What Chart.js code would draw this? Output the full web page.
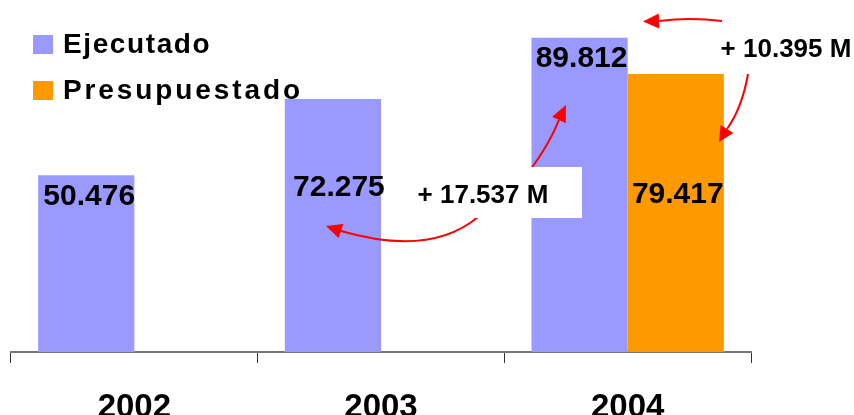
<!DOCTYPE html>
<html>
<head>
<meta charset="utf-8">
<script src="https://cdn.jsdelivr.net/npm/chart.js@4.4.1/dist/chart.umd.min.js"></script>
<style>
  html, body { margin: 0; padding: 0; background: #fff; }
  #wrap { width: 854px; height: 415px; position: relative; }
</style>
</head>
<body>
<div id="wrap"><canvas id="c" width="854" height="415"></canvas></div>
<script>
// Budget execution by year (values in thousands, shown as "50.476" etc.)
const years = ['2002', '2003', '2004'];
const ejecutado = [50476, 72275, 89812];
const presupuestado = [null, null, 79417];
const seriesNames = ['Ejecutado', 'Presupuestado'];
const seriesColors = ['#9999FF', '#FF9900'];

const FONT = "'Liberation Sans', Arial, Helvetica, sans-serif";

// 50476 -> "50.476"
function fmt(v) {
  return Math.floor(v / 1000) + '.' + String(v % 1000).padStart(3, '0');
}

const growth = ejecutado[2] - ejecutado[1];          // vs previous year
const overBudget = ejecutado[2] - presupuestado[2];  // vs budget

function arrow(ctx, s, c, e, tip) {
  ctx.beginPath();
  ctx.moveTo(s[0], s[1]);
  ctx.quadraticCurveTo(c[0], c[1], e[0], e[1]);
  ctx.stroke();
  const dx = tip[0] - e[0], dy = tip[1] - e[1];
  const L = Math.hypot(dx, dy) || 1;
  const nx = -dy / L * 7.5, ny = dx / L * 7.5;
  ctx.beginPath();
  ctx.moveTo(tip[0], tip[1]);
  ctx.lineTo(e[0] + nx, e[1] + ny);
  ctx.lineTo(e[0] - nx, e[1] - ny);
  ctx.closePath();
  ctx.fill();
}

// Value labels, comparison arrows and callouts
const overlay = {
  id: 'overlay',
  afterDatasetsDraw(chart, args, opts) {
    const ctx = chart.ctx, xs = chart.scales.x, ys = chart.scales.y;
    const cw = xs.width / chart.data.labels.length;
    const x0 = xs.getPixelForValue(0);
    // c: position in category units, k: value in thousands
    const P = (c, k) => [x0 + c * cw, ys.getPixelForValue(k * 1000)];

    ctx.save();

    // arrows
    ctx.strokeStyle = '#FF0000';
    ctx.fillStyle = '#FF0000';
    ctx.lineWidth = 2;
    arrow(ctx, P(2.3825, 94.57), P(2.2527, 95.71), P(2.1270, 94.57), P(2.0622, 94.43));
    arrow(ctx, P(2.4878, 79.43), P(2.4635, 69.71), P(2.4027, 63.71), P(2.3703, 60.0));
    arrow(ctx, P(1.6081, 52.29), P(1.6851, 59.71), P(1.7216, 66.29), P(1.7500, 70.57));
    arrow(ctx, P(1.3932, 38.57), P(1.1986, 27.14), P(0.8378, 34.57), P(0.7770, 36.0));

    // callout box for the year-on-year growth
    const b1 = P(1.0973, 52.86), b2 = P(1.8149, 38.29);
    ctx.fillStyle = '#FFFFFF';
    ctx.fillRect(b1[0], b1[1], b2[0] - b1[0], b2[1] - b1[1]);

    ctx.fillStyle = '#000';
    ctx.textAlign = 'center';
    ctx.textBaseline = 'alphabetic';
    ctx.font = `bold 26px ${FONT}`;
    let p = P(1.4134, 42.57);
    ctx.fillText('+ ' + fmt(growth) + ' M', p[0], p[1]);
    p = P(2.6419, 84.29);
    ctx.fillText('+ ' + fmt(overBudget) + ' M', p[0], p[1]);

    // value labels on bars
    ctx.font = `bold 30px ${FONT}`;
    chart.data.datasets.forEach((ds, di) => {
      const meta = chart.getDatasetMeta(di);
      ds.data.forEach((v, i) => {
        if (v == null) return;
        const bar = meta.data[i];
        const y = ys.getPixelForValue(opts.labelAt[di][i] * 1000);
        ctx.fillText(fmt(v), bar.x + opts.labelDx[di][i], y);
      });
    });
    ctx.restore();
  }
};

// Legend in the upper left corner
const cornerLegend = {
  id: 'cornerLegend',
  afterDraw(chart, args, opts) {
    const ctx = chart.ctx;
    ctx.save();
    ctx.font = `bold 28px ${FONT}`;
    ctx.textAlign = 'left';
    ctx.textBaseline = 'alphabetic';
    chart.data.datasets.forEach((ds, i) => {
      const top = 35 + i * 46;
      ctx.fillStyle = ds.backgroundColor;
      ctx.fillRect(33, top, 20, 19);
      ctx.fillStyle = '#000';
      ctx.letterSpacing = opts.spacing[i];
      ctx.fillText(ds.label, 63, top + 18);
    });
    ctx.restore();
  }
};

new Chart(document.getElementById('c'), {
  type: 'bar',
  data: {
    labels: years,
    datasets: [
      { label: seriesNames[0], data: ejecutado, backgroundColor: seriesColors[0],
        barPercentage: 1, categoryPercentage: 0.78 },
      { label: seriesNames[1], data: presupuestado, backgroundColor: seriesColors[1],
        barPercentage: 1, categoryPercentage: 0.78 }
    ]
  },
  options: {
    responsive: false,
    animation: false,
    events: [],
    layout: { padding: { left: 11, right: 103, top: 2, bottom: 0 } },
    plugins: {
      legend: { display: false },
      tooltip: { enabled: false },
      cornerLegend: { spacing: ['1.6px', '2.9px'] },
      overlay: {
        labelAt: [[42.0, 44.57, 81.43], [null, null, 42.57]],
        labelDx: [[3, 6, 2], [0, 0, 2]]
      }
    },
    scales: {
      x: {
        grid: { display: true, drawOnChartArea: false, drawTicks: true, tickLength: 11,
                color: '#333', lineWidth: 1, offset: true },
        border: { display: true, color: '#777', width: 2 },
        ticks: { color: '#000', padding: 25, font: { family: FONT, size: 33, weight: 'bold' } },
        afterFit(s) { s.height = 63; }
      },
      y: { display: false, min: 0, max: 100000 }
    }
  },
  plugins: [overlay, cornerLegend]
});
</script>
</body>
</html>
